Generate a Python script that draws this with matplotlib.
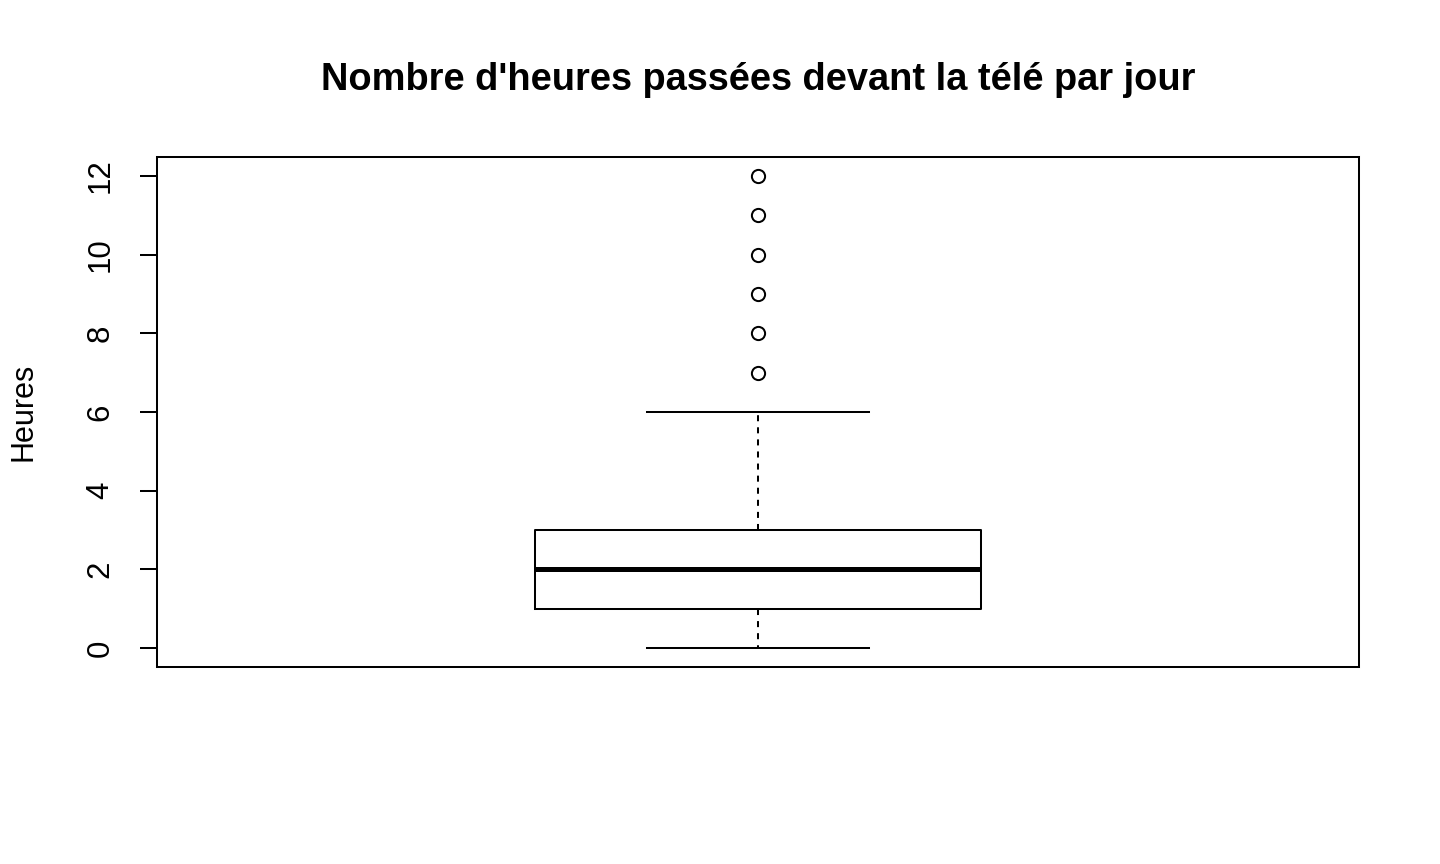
import matplotlib

matplotlib.use("Agg")
import matplotlib.pyplot as plt

plt.rcParams["font.family"] = ["Liberation Sans", "DejaVu Sans"]

title = "Nombre d'heures passées devant la télé par jour"
ylabel = "Heures"

# five-number summary
whisker_low = 0
q1 = 1
median = 2
q3 = 3
whisker_high = 6
outliers = [7, 8, 9, 10, 11, 12]
yticks = [0, 2, 4, 6, 8, 10, 12]

fig = plt.figure(figsize=(14.4, 8.64), dpi=100)
ax = fig.add_axes([157 / 1440, 1 - 667 / 864, 1202 / 1440, 510 / 864])

stats = [{
    "whislo": whisker_low,
    "q1": q1,
    "med": median,
    "q3": q3,
    "whishi": whisker_high,
    "fliers": outliers,
}]
lw = 1.45
ax.bxp(
    stats,
    positions=[1],
    widths=0.4,
    capwidths=0.2,
    showfliers=True,
    boxprops={"color": "black", "linewidth": lw},
    whiskerprops={"color": "black", "linewidth": lw, "linestyle": (0, (3, 3))},
    capprops={"color": "black", "linewidth": lw},
    medianprops={"color": "black", "linewidth": 3.6, "solid_capstyle": "butt"},
    flierprops={"marker": "o", "markersize": 9.5, "markerfacecolor": "none",
                "markeredgecolor": "black", "markeredgewidth": lw},
)

ax.set_xlim(0.46, 1.54)
ax.set_ylim(-0.48, 12.48)
ax.set_xticks([])
ax.set_yticks(yticks)
ax.set_yticklabels([str(t) for t in yticks], rotation=90, va="center", fontsize=22.5)
ax.tick_params(axis="y", length=12, width=lw, pad=18, color="black")
for spine in ax.spines.values():
    spine.set_linewidth(lw)

ax.set_ylabel(ylabel, fontsize=22, labelpad=34)
fig.text(758 / 1440, 1 - 80 / 864, title, ha="center", va="center",
         fontsize=27.4, fontweight="bold")

fig.savefig("out.png", dpi=100)
